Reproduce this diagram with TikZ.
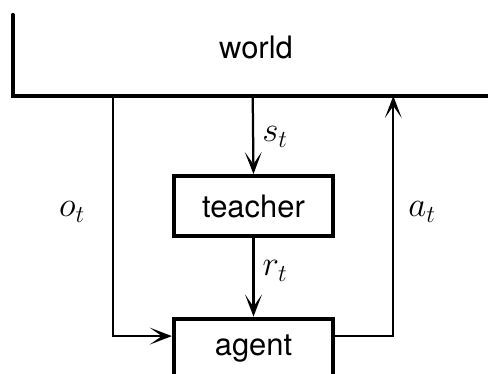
\documentclass[tikz,border=0pt]{standalone}
\usepackage{fontspec}
\setmainfont{TeX Gyre Heros}
\usetikzlibrary{arrows.meta,positioning,calc}

\begin{document}
\begin{tikzpicture}[x=0.025cm,y=-0.025cm,
  box/.style={draw,line width=3pt,minimum width=3.975cm,minimum height=1.49cm,font=\fontsize{22}{26}\selectfont},
  sig/.style={line width=1.6pt},
  arr/.style={sig,-{Stealth[length=0.55cm,width=0.42cm,inset=0.3cm]}},
  lbl/.style={font=\fontsize{25}{29}\selectfont}
]
  \useasboundingbox (0,0) rectangle (488,374);
  \node[font=\fontsize{22}{26}\selectfont] (world) at (256,47) {world};
  \draw[line width=3pt,line cap=round] (12.7,15) |- (495,96);
  \coordinate (obs) at (112.7,96);
  \coordinate (state) at (252.7,96);
  \coordinate (act) at (393.3,96);
  \node[box] (teacher) at (253.5,206) {teacher};
  \node[box] (agent) at (253.5,348.5) {agent};
  \coordinate (ain) at ([yshift=0.31cm]agent.west);
  \coordinate (aout) at ([yshift=0.31cm]agent.east);
  \draw[arr] (state) -- (teacher.north);
  \draw[arr] (teacher.south) -- (agent.north);
  \draw[arr] (obs) |- (ain);
  \draw[arr] (aout) -| (act);
  \node[lbl] (olbl) at (72,212) {$o_t$};
  \node[lbl] (slbl) at (275,137) {$s_t$};
  \node[lbl] (albl) at (422,212) {$a_t$};
  \node[lbl] (rlbl) at (275,271) {$r_t$};
\end{tikzpicture}
\end{document}
